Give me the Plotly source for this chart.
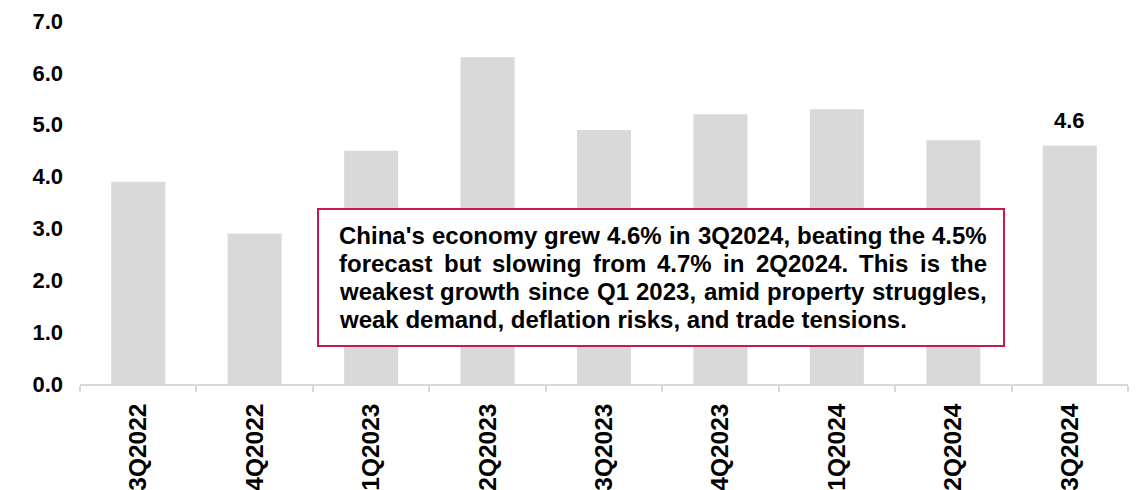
import plotly.graph_objects as go

quarters = ["3Q2022", "4Q2022", "1Q2023", "2Q2023", "3Q2023", "4Q2023", "1Q2024", "2Q2024", "3Q2024"]
gdp_growth = [3.9, 2.9, 4.5, 6.3, 4.9, 5.2, 5.3, 4.7, 4.6]
labelled_index = 8
y_ticks = [0, 1, 2, 3, 4, 5, 6, 7]
note_lines = [
    "China's economy grew 4.6% in 3Q2024, beating the 4.5%",
    "forecast but slowing from 4.7% in 2Q2024. This is the",
    "weakest growth since Q1 2023, amid property struggles,",
    "weak demand, deflation risks, and trade tensions.",
]

FONT = "Arial, Liberation Sans, sans-serif"

# Arial Bold advance widths (1/1000 em) for justified text layout
W = {" ": 278, "'": 238, "%": 889, ",": 278, ".": 278}
W.update({d: 556 for d in "0123456789"})
W.update({"A": 722, "C": 722, "Q": 778, "T": 611})
W.update(dict(zip("abcdefghijklmnopqrstuvwxyz",
                  [556, 611, 556, 611, 556, 333, 611, 611, 278, 278, 556, 278, 889,
                   611, 611, 611, 611, 389, 556, 333, 611, 556, 778, 556, 556, 500])))


def text_width(s, size):
    return sum(W.get(c, 556) for c in s) * size / 1000.0


fig = go.Figure()
fig.add_trace(go.Bar(
    x=quarters, y=gdp_growth,
    marker=dict(color="#d9d9d9", line=dict(width=0)),
    hoverinfo="x+y",
))
fig.add_annotation(
    x=quarters[labelled_index], y=gdp_growth[labelled_index],
    text=f"{gdp_growth[labelled_index]:.1f}", showarrow=False,
    yanchor="bottom", yshift=10,
    font=dict(family=FONT, size=22, color="#000000", weight="bold"),
)

# plot area geometry in pixels (for the note box)
PL, PR, PT, PB = 80, 1128, 21, 384


def px_x(p):
    return (p - PL) / (PR - PL)


def px_y(p):
    return (PB - p) / (PB - PT)


fig.update_layout(
    width=1140, height=490,
    margin=dict(l=PL, r=1140 - PR, t=PT, b=490 - PB),
    plot_bgcolor="white", paper_bgcolor="white",
    bargap=0.536,
    showlegend=False,
    font=dict(family=FONT, color="#000000"),
)
fig.update_xaxes(
    type="category",
    showline=True, linecolor="#d9d9d9", linewidth=1.5,
    ticks="outside", tickson="boundaries", ticklen=6, tickcolor="#d9d9d9", tickwidth=1.5,
    tickangle=-90,
    tickfont=dict(family=FONT, size=24.5, color="#000000", weight="bold"),
    automargin=False, showgrid=False,
    ticklabelstandoff=8,
)
fig.update_yaxes(
    range=[0, 7], tickvals=y_ticks,
    ticktext=[f"{v:.1f}" for v in y_ticks],
    showgrid=False, zeroline=False, showline=False,
    tickfont=dict(family=FONT, size=22, color="#000000", weight="bold"),
    automargin=False, ticklabelstandoff=16,
)

# note box
fig.add_shape(type="rect", xref="paper", yref="paper",
              x0=px_x(318), x1=px_x(1004), y0=px_y(346), y1=px_y(209),
              line=dict(color="#C9184A", width=2), fillcolor="white", layer="above")

NOTE_SIZE = 24
left, right = 338, 986
cap_centers = [235, 263, 291, 319]
for i, line in enumerate(note_lines):
    yc = px_y(cap_centers[i])
    if i == len(note_lines) - 1:
        fig.add_annotation(xref="paper", yref="paper", x=px_x(left), y=yc,
                           xanchor="left", yanchor="middle", align="left",
                           text=line, showarrow=False, borderpad=0,
                           font=dict(family=FONT, size=NOTE_SIZE, color="#000000", weight="bold"))
        continue
    words = line.split(" ")
    widths = [text_width(w, NOTE_SIZE) for w in words]
    gap = (right - left - sum(widths)) / (len(words) - 1)
    x = left
    for w, wd in zip(words, widths):
        fig.add_annotation(xref="paper", yref="paper", x=px_x(x), y=yc,
                           xanchor="left", yanchor="middle", align="left",
                           text=w, showarrow=False, borderpad=0,
                           font=dict(family=FONT, size=NOTE_SIZE, color="#000000", weight="bold"))
        x += wd + gap

fig.write_html("out.html")
